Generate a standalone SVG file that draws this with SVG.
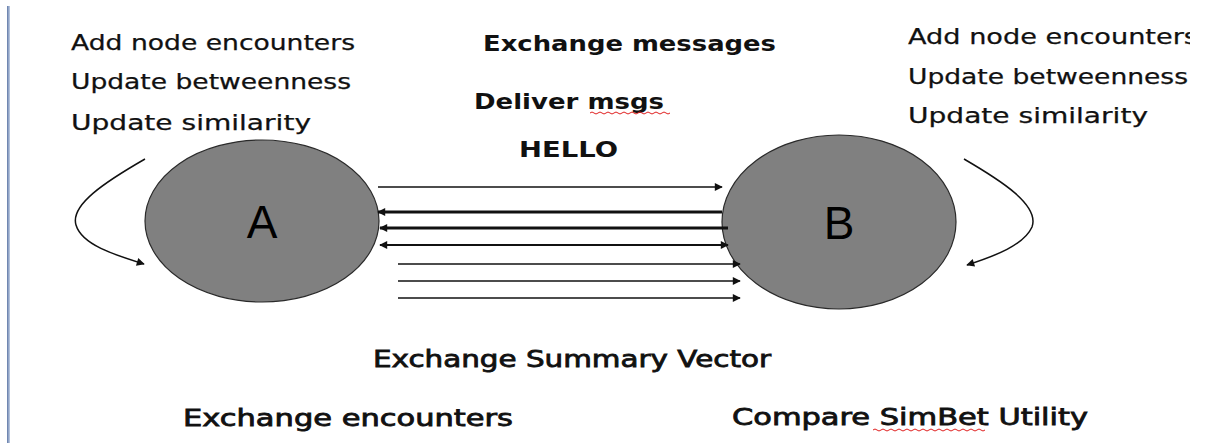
<svg xmlns="http://www.w3.org/2000/svg" width="1208" height="443" viewBox="0 0 1208 443">
  <style>
    .lbl { font-family: "DejaVu Sans", Verdana, sans-serif; fill: #111; }
    .reg { font-size: 21px; stroke: #111; stroke-width: 0.25; }
    .bold { font-size: 22px; font-weight: bold; }
    .big { font-size: 23px; stroke: #111; stroke-width: 0.8; }
    .node { fill: #808080; stroke: #2a2a2a; stroke-width: 1.2; }
    .nodeTxt { font-family: "Liberation Sans", Arial, sans-serif; font-size: 46px; fill: #000; text-anchor: middle; }
    .wire { stroke: #111; fill: none; }
    .squiggle { stroke: #e02020; stroke-width: 1; fill: none; }
  </style>
  <defs>
    <marker id="head" viewBox="0 0 10 10" refX="9" refY="5" markerWidth="10" markerHeight="8" markerUnits="userSpaceOnUse" orient="auto-start-reverse">
      <path d="M0,0 L10,5 L0,10 z" fill="#111"/>
    </marker>
    <clipPath id="pageClip">
      <rect x="0" y="0" width="1190" height="443"/>
    </clipPath>
    <linearGradient id="rule" x1="0" y1="0" x2="1" y2="0">
      <stop offset="0" stop-color="#5f78a6"/>
      <stop offset="1" stop-color="#c3d0e6"/>
    </linearGradient>
  </defs>

  <rect x="0" y="0" width="1208" height="443" fill="#ffffff"/>
  <!-- left margin rule -->
  <rect x="7" y="6" width="3" height="437" fill="url(#rule)"/>

  <!-- node A -->
  <g id="nodeA">
    <ellipse class="node" cx="262" cy="221" rx="117" ry="81"/>
    <text class="nodeTxt" x="262" y="238">A</text>
  </g>

  <!-- node B -->
  <g id="nodeB">
    <ellipse class="node" cx="839" cy="222" rx="117" ry="87"/>
    <text class="nodeTxt" x="839" y="239">B</text>
  </g>

  <!-- connectors -->
  <g id="connectors">
    <line class="wire" stroke-width="1.3" x1="378" y1="187" x2="722" y2="187" marker-end="url(#head)"/>
    <line class="wire" stroke-width="2.8" x1="722" y1="212" x2="378" y2="212" marker-end="url(#head)"/>
    <line class="wire" stroke-width="2.8" x1="728" y1="228" x2="380" y2="228" marker-end="url(#head)"/>
    <line class="wire" stroke-width="1.8" x1="380" y1="245" x2="728" y2="245" marker-start="url(#head)" marker-end="url(#head)"/>
    <line class="wire" stroke-width="1.3" x1="398" y1="264" x2="740" y2="264" marker-end="url(#head)"/>
    <line class="wire" stroke-width="1.3" x1="398" y1="281" x2="740" y2="281" marker-end="url(#head)"/>
    <line class="wire" stroke-width="1.3" x1="398" y1="298" x2="740" y2="298" marker-end="url(#head)"/>
    <!-- self loops -->
    <path class="wire" stroke-width="1.5" d="M145,159 C105,182 70,205 76,225 C82,245 115,255 144,264" marker-end="url(#head)"/>
    <path class="wire" stroke-width="1.5" d="M964,159 C1000,180 1040,205 1032,227 C1024,245 995,256 967,265" marker-end="url(#head)"/>
  </g>

  <!-- labels around node A -->
  <g id="labelsA">
    <text class="lbl reg" x="71" y="50" textLength="284" lengthAdjust="spacingAndGlyphs">Add node encounters</text>
    <text class="lbl reg" x="71" y="89" textLength="280" lengthAdjust="spacingAndGlyphs">Update betweenness</text>
    <text class="lbl reg" x="71" y="130" textLength="240" lengthAdjust="spacingAndGlyphs">Update similarity</text>
  </g>

  <!-- labels around node B -->
  <g id="labelsB" clip-path="url(#pageClip)">
    <text class="lbl reg" x="908" y="44" textLength="290" lengthAdjust="spacingAndGlyphs">Add node encounters</text>
    <text class="lbl reg" x="908" y="84" textLength="280" lengthAdjust="spacingAndGlyphs">Update betweenness</text>
    <text class="lbl reg" x="908" y="123" textLength="240" lengthAdjust="spacingAndGlyphs">Update similarity</text>
  </g>

  <!-- exchange labels -->
  <g id="exchangeLabels">
    <text class="lbl bold" x="483" y="51" textLength="293" lengthAdjust="spacingAndGlyphs">Exchange messages</text>
    <text class="lbl bold" x="474" y="109" textLength="190" lengthAdjust="spacingAndGlyphs">Deliver msgs</text>
    <path class="squiggle" d="M590,113 q2,-2 4,0 t4,0 t4,0 t4,0 t4,0 t4,0 t4,0 t4,0 t4,0 t4,0 t4,0 t4,0 t4,0 t4,0 t4,0 t4,0 t4,0 t4,0 t4,0 t4,0"/>
    <text class="lbl bold" x="519" y="157" textLength="99" lengthAdjust="spacingAndGlyphs">HELLO</text>
    <text class="lbl big" x="373" y="367" textLength="398" lengthAdjust="spacingAndGlyphs">Exchange Summary Vector</text>
    <text class="lbl big" x="183" y="426" textLength="330" lengthAdjust="spacingAndGlyphs">Exchange  encounters</text>
    <text class="lbl big" x="732" y="425" textLength="356" lengthAdjust="spacingAndGlyphs">Compare SimBet Utility</text>
    <path class="squiggle" d="M873,430 q2,-2 4,0 t4,0 t4,0 t4,0 t4,0 t4,0 t4,0 t4,0 t4,0 t4,0 t4,0 t4,0 t4,0 t4,0 t4,0 t4,0 t4,0 t4,0 t4,0 t4,0 t4,0 t4,0 t4,0 t4,0 t4,0 t4,0 t4,0 t4,0"/>
  </g>
</svg>
